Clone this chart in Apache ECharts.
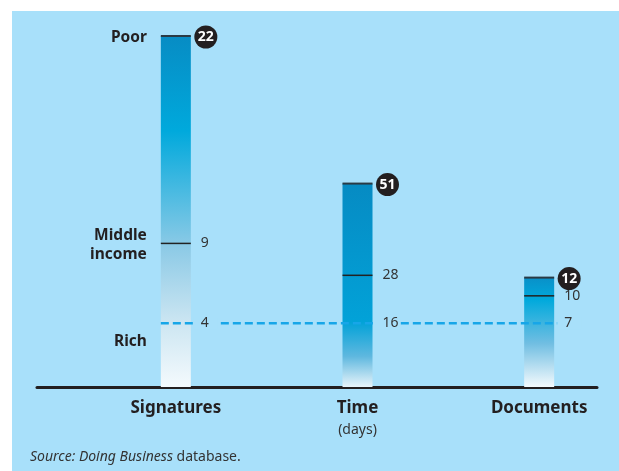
<!DOCTYPE html>
<html>
<head>
<meta charset="utf-8">
<script src="https://cdn.jsdelivr.net/npm/echarts@6/dist/echarts.min.js"></script>
<style>html,body{margin:0;padding:0;background:#fff}#c{width:619px;height:471px}</style>
</head>
<body>
<div id="c"></div>
<script>
const categories = ['Signatures', 'Time', 'Documents'];
const subLabels = ['', '(days)', ''];
const poor = [22, 51, 12];
const middle = [9, 28, 10];
const rich = [4, 16, 7];
const groupLabels = ['Poor', 'Middle\nincome', 'Rich'];

const FONT = '"Noto Sans", sans-serif';
const BG = '#a8e0fa';
const HW = 15;

const gradStops = [
  [[0, '#078cc4'], [0.27, '#00a9dc'], [0.6, '#8ccae6'], [0.82, '#cde6f2'], [1, '#f4fafd']],
  [[0, '#068bc3'], [0.68, '#02a2d8'], [0.85, '#5fb8df'], [1, '#e8f4fa']],
  [[0, '#0a90c8'], [0.2, '#00a9dc'], [0.6, '#70bee2'], [1, '#f4fafd']]
];

const chart = echarts.init(document.getElementById('c'));

const yAxes = rich.map((r, i) => ({
  type: 'value', gridIndex: 0, show: false, min: 0,
  max: poor[0] * r / rich[0]
}));
yAxes.push({ type: 'value', gridIndex: 1, show: false });

const series = [];
categories.forEach((c, i) => {
  series.push({
    type: 'bar', xAxisIndex: 0, yAxisIndex: i, barWidth: 30, barGap: '-100%', z: 2,
    data: categories.map((cc, j) => j === i ? poor[i] : null),
    itemStyle: { color: new echarts.graphic.LinearGradient(0, 0, 0, 1,
      gradStops[i].map(s => ({ offset: s[0], color: s[1] }))) },
    silent: true
  });
});

// dashed "rich" reference line spanning bars
series.push({
  type: 'custom', xAxisIndex: 0, yAxisIndex: 0, z: 5, silent: true,
  data: [[0, rich[0]]],
  renderItem: function (params, api) {
    const a = api.coord([0, api.value(1)]);
    const b = api.coord([categories.length - 1, api.value(1)]);
    return {
      type: 'line',
      shape: { x1: a[0] - HW, y1: a[1], x2: b[0] + HW + 8, y2: a[1] },
      style: { stroke: '#17a6e8', lineWidth: 2.5, lineDash: [8, 4] }
    };
  }
});

// ticks and value labels per metric
categories.forEach((c, i) => {
  series.push({
    type: 'custom', xAxisIndex: 0, yAxisIndex: i, z: 6, silent: true,
    data: [[i, poor[i]], [i, middle[i]], [i, rich[i]]],
    renderItem: function (params, api) {
      const v = api.value(1);
      const p = api.coord([api.value(0), v]);
      const k = params.dataIndex;
      if (k === 0) {
        return { type: 'group', children: [
          { type: 'line', shape: { x1: p[0] - HW, y1: p[1], x2: p[0] + HW, y2: p[1] },
            style: { stroke: '#2a3a44', lineWidth: 2 } },
          { type: 'circle', shape: { cx: p[0] + HW + 15, cy: p[1] + 1, r: 11.5 },
            style: { fill: '#231f20' } },
          { type: 'text', x: p[0] + HW + 15, y: p[1] + 1,
            style: { text: String(v), fill: '#fff', font: 'bold 14px ' + FONT,
              align: 'center', verticalAlign: 'middle' } }
        ]};
      } else if (k === 1) {
        return { type: 'group', children: [
          { type: 'line', shape: { x1: p[0] - HW, y1: p[1], x2: p[0] + HW, y2: p[1] },
            style: { stroke: '#222', lineWidth: 1.5 } },
          { type: 'text', x: p[0] + HW + 10, y: p[1],
            style: { text: String(v), fill: '#333', font: '14px ' + FONT,
              align: 'left', verticalAlign: 'middle' } }
        ]};
      } else {
        return { type: 'group', children: [
          { type: 'rect', shape: { x: p[0] + HW + 3, y: p[1] - 6, width: 24, height: 12 },
            style: { fill: BG } },
          { type: 'text', x: p[0] + HW + 10, y: p[1],
            style: { text: String(v), fill: '#333', font: '14px ' + FONT,
              align: 'left', verticalAlign: 'middle' } }
        ]};
      }
    }
  });
});

// income group labels on the left, placed at Signatures levels
const labelOffsets = [2, 2, 18];
series.push({
  type: 'custom', xAxisIndex: 0, yAxisIndex: 0, z: 6, silent: true,
  data: [[0, poor[0]], [0, middle[0]], [0, rich[0]]],
  renderItem: function (params, api) {
    const p = api.coord([0, api.value(1)]);
    const k = params.dataIndex;
    return {
      type: 'text', x: p[0] - HW - 14, y: p[1] + labelOffsets[k],
      style: { text: groupLabels[k], fill: '#231f20', font: 'bold 15.5px ' + FONT,
        align: 'right', verticalAlign: 'middle', lineHeight: 19 }
    };
  }
});

chart.setOption({
  backgroundColor: '#ffffff',
  animation: false,
  graphic: [
    { type: 'rect', left: 12, top: 11, z: -10, shape: { width: 607, height: 460 },
      style: { fill: BG } },
    { type: 'text', left: 30, top: 450, z: 10,
      style: { text: '{i|Source: Doing Business} database.', font: '14px ' + FONT, fill: '#333',
        rich: { i: { fontStyle: 'italic', fontSize: 14, fontFamily: FONT, fill: '#333' } } } }
  ],
  grid: [
    { left: 85, width: 545, top: 36, bottom: 84, outerBoundsMode: 'none', containLabel: false },
    { left: 37, right: 22, top: 36, bottom: 84, outerBoundsMode: 'none', containLabel: false }
  ],
  xAxis: [
    { type: 'category', gridIndex: 0, data: categories,
      axisLine: { show: false }, axisTick: { show: false },
      axisLabel: {
        margin: 10,
        formatter: function (val, idx) {
          return subLabels[idx] ? '{a|' + val + '}\n{b|' + subLabels[idx] + '}' : '{a|' + val + '}';
        },
        rich: {
          a: { fontFamily: FONT, fontWeight: 'bold', fontSize: 17, color: '#231f20', lineHeight: 22 },
          b: { fontFamily: FONT, fontSize: 14, color: '#333', lineHeight: 22 }
        }
      }
    },
    { type: 'category', gridIndex: 1, data: [''],
      axisLine: { lineStyle: { color: '#231f20', width: 3 } },
      axisTick: { show: false }, axisLabel: { show: false } }
  ],
  yAxis: yAxes,
  series: series
});
</script>
</body>
</html>
